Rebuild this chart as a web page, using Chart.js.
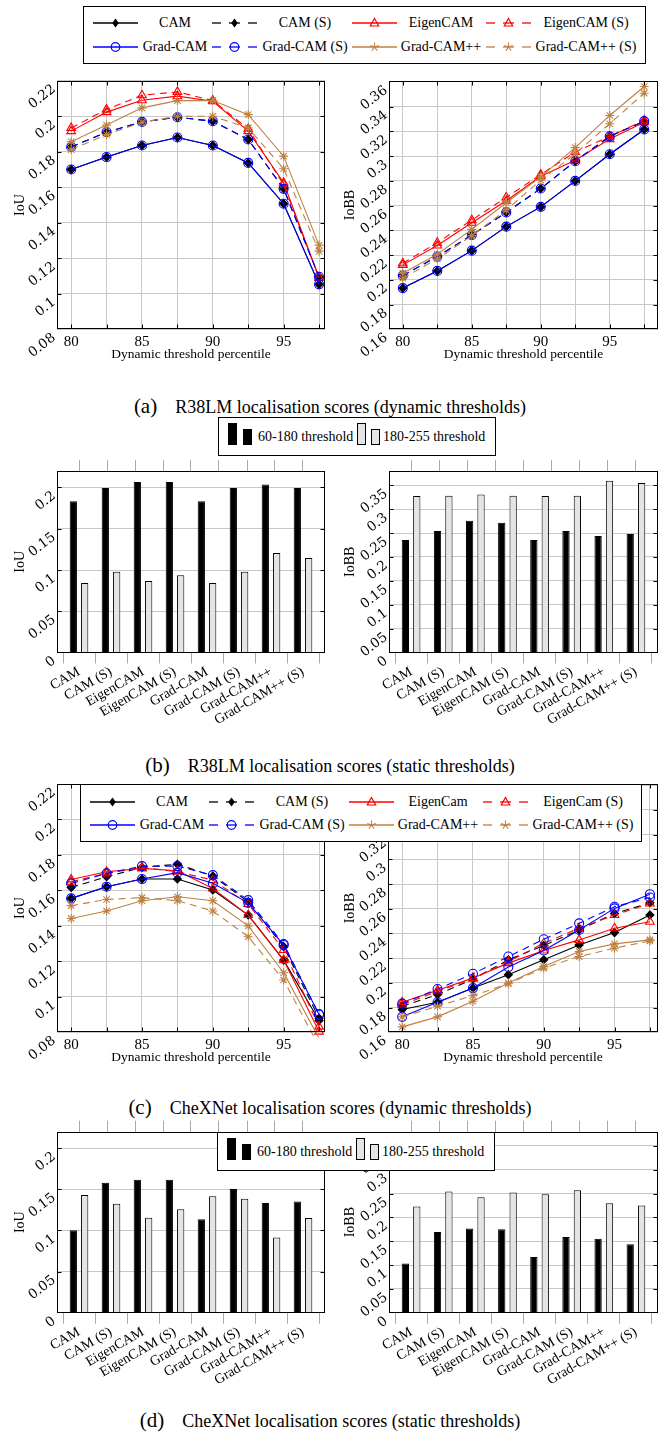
<!DOCTYPE html>
<html><head><meta charset="utf-8">
<script src="https://cdn.jsdelivr.net/npm/chart.js@4"></script>
<style>
body{margin:0;background:#fff;}
#page{position:relative;width:670px;height:1435px;overflow:hidden;font-family:'Liberation Serif','Times New Roman',serif;color:#000;}
.cv{position:absolute;}
.lg{position:absolute;border:1px solid #000;background:#fff;z-index:5;box-sizing:border-box;}
.lg .t{position:absolute;font-size:14px;white-space:nowrap;transform:translate(-50%,-50%);}
.lg .bt{position:absolute;font-size:14px;white-space:nowrap;transform:translateY(-50%);}
.lg svg{position:absolute;}
.lg .ic{position:absolute;border:1px solid #000;box-sizing:border-box;}
.cap{position:absolute;left:0;width:660px;display:flex;justify-content:center;align-items:baseline;gap:18px;font-size:18px;white-space:nowrap;}
.cap .n{font-size:21px;}
</style></head>
<body><div id="page"></div>
<script>
// ---------- data ----------
const xPercentiles = [80, 82.5, 85, 87.5, 90, 92.5, 95, 97.5];
const methodLabels = ['CAM', 'CAM (S)', 'EigenCAM', 'EigenCAM (S)', 'Grad-CAM', 'Grad-CAM (S)', 'Grad-CAM++', 'Grad-CAM++ (S)'];
const legendLabelsR38 = ['CAM', 'CAM (S)', 'EigenCAM', 'EigenCAM (S)', 'Grad-CAM', 'Grad-CAM (S)', 'Grad-CAM++', 'Grad-CAM++ (S)'];
const legendLabelsChex = ['CAM', 'CAM (S)', 'EigenCam', 'EigenCam (S)', 'Grad-CAM', 'Grad-CAM (S)', 'Grad-CAM++', 'Grad-CAM++ (S)'];
const barLegendLabels = ['60-180 threshold', '180-255 threshold'];

const iouLineTicks = [0.08, 0.1, 0.12, 0.14, 0.16, 0.18, 0.2, 0.22];
const iobbLineTicks = [0.16, 0.18, 0.2, 0.22, 0.24, 0.26, 0.28, 0.3, 0.32, 0.34, 0.36];
const iouBarTicks = [0, 0.05, 0.1, 0.15, 0.2];
const iobbBarTicks = [0, 0.05, 0.1, 0.15, 0.2, 0.25, 0.3, 0.35];

// (a) R38LM dynamic, IoU
const r38IoU_CAM      = [0.170, 0.177, 0.1835, 0.188, 0.1835, 0.1737, 0.1507, 0.1053];
const r38IoU_CAM_S    = [0.1827, 0.191, 0.1968, 0.1994, 0.1972, 0.1869, 0.1591, 0.1096];
const r38IoU_Eigen    = [0.1916, 0.2023, 0.209, 0.2113, 0.2084, 0.1916, 0.1625, 0.109];
const r38IoU_Eigen_S  = [0.1934, 0.2038, 0.2118, 0.2137, 0.2088, 0.1929, 0.1615, 0.109];
const r38IoU_Grad     = [0.170, 0.177, 0.1835, 0.188, 0.1835, 0.1737, 0.1507, 0.1053];
const r38IoU_Grad_S   = [0.1827, 0.191, 0.1968, 0.1994, 0.1972, 0.1869, 0.1591, 0.1096];
const r38IoU_GradPP   = [0.1856, 0.195, 0.2047, 0.2088, 0.2088, 0.2009, 0.1775, 0.1274];
const r38IoU_GradPP_S = [0.1812, 0.1897, 0.1966, 0.2, 0.2, 0.1934, 0.1704, 0.124];
// (a) R38LM dynamic, IoBB
const r38IoBB_CAM      = [0.1933, 0.2072, 0.2236, 0.243, 0.259, 0.28, 0.3015, 0.3216];
const r38IoBB_CAM_S    = [0.2035, 0.2188, 0.2362, 0.2545, 0.2738, 0.2959, 0.316, 0.3283];
const r38IoBB_Eigen    = [0.2121, 0.2277, 0.2462, 0.2639, 0.2838, 0.2967, 0.3138, 0.3275];
const r38IoBB_Eigen_S  = [0.2134, 0.23, 0.2483, 0.2666, 0.2851, 0.3034, 0.316, 0.3289];
const r38IoBB_Grad     = [0.1933, 0.2072, 0.2236, 0.243, 0.259, 0.28, 0.3015, 0.3216];
const r38IoBB_Grad_S   = [0.2035, 0.2188, 0.2362, 0.2545, 0.2738, 0.2959, 0.316, 0.3283];
const r38IoBB_GradPP   = [0.2054, 0.2207, 0.2408, 0.2623, 0.2832, 0.3069, 0.3329, 0.3563];
const r38IoBB_GradPP_S = [0.2013, 0.2169, 0.2357, 0.2564, 0.2806, 0.302, 0.3262, 0.3509];
// (b) R38LM static
const r38StaticIoU_60_180   = [0.1834, 0.1995, 0.2068, 0.2068, 0.1834, 0.1995, 0.2035, 0.1995];
const r38StaticIoU_180_255  = [0.0842, 0.0979, 0.0866, 0.0935, 0.0842, 0.0979, 0.1205, 0.1144];
const r38StaticIoBB_60_180  = [0.2356, 0.2545, 0.276, 0.2718, 0.2356, 0.2545, 0.244, 0.248];
const r38StaticIoBB_180_255 = [0.3277, 0.3284, 0.331, 0.3284, 0.3277, 0.3284, 0.3597, 0.3548];
// (c) CheXNet dynamic, IoU
const chexIoU_CAM      = [0.1555, 0.1621, 0.1664, 0.1664, 0.1602, 0.1461, 0.1207, 0.0866];
const chexIoU_CAM_S    = [0.1617, 0.1677, 0.173, 0.1748, 0.1681, 0.1536, 0.1283, 0.0879];
const chexIoU_Eigen    = [0.1662, 0.1705, 0.1724, 0.1711, 0.1611, 0.1461, 0.1207, 0.0804];
const chexIoU_Eigen_S  = [0.1649, 0.1696, 0.173, 0.1705, 0.1658, 0.1523, 0.1264, 0.0832];
const chexIoU_Grad     = [0.1555, 0.1621, 0.1664, 0.17, 0.164, 0.153, 0.1292, 0.0901];
const chexIoU_Grad_S   = [0.1639, 0.1696, 0.1737, 0.1737, 0.1686, 0.1545, 0.1298, 0.0901];
const chexIoU_GradPP   = [0.1442, 0.1484, 0.1542, 0.1564, 0.1542, 0.14, 0.1136, 0.0766];
const chexIoU_GradPP_S = [0.1514, 0.1549, 0.1559, 0.1542, 0.1484, 0.1339, 0.1095, 0.072];
// (c) CheXNet dynamic, IoBB
const chexIoBB_CAM      = [0.1784, 0.1843, 0.1958, 0.2066, 0.2187, 0.2307, 0.2407, 0.2549];
const chexIoBB_CAM_S    = [0.1811, 0.1905, 0.2031, 0.2187, 0.2302, 0.2428, 0.2562, 0.2648];
const chexIoBB_Eigen    = [0.1843, 0.194, 0.2039, 0.216, 0.2262, 0.2348, 0.2442, 0.2495];
const chexIoBB_Eigen_S  = [0.1824, 0.1932, 0.2034, 0.2173, 0.2321, 0.2442, 0.2549, 0.2643];
const chexIoBB_Grad     = [0.1725, 0.1843, 0.1958, 0.2128, 0.2262, 0.2428, 0.2603, 0.2718];
const chexIoBB_Grad_S   = [0.1832, 0.195, 0.2074, 0.2213, 0.2353, 0.2482, 0.2616, 0.2691];
const chexIoBB_GradPP   = [0.1644, 0.1725, 0.1851, 0.1999, 0.2133, 0.2254, 0.2316, 0.2348];
const chexIoBB_GradPP_S = [0.1725, 0.1811, 0.1897, 0.1993, 0.212, 0.2213, 0.2281, 0.234];
// (d) CheXNet static
const chexStaticIoU_60_180   = [0.1002, 0.158, 0.1616, 0.1616, 0.1135, 0.1503, 0.1333, 0.1353];
const chexStaticIoU_180_255  = [0.143, 0.1325, 0.1155, 0.1256, 0.1414, 0.1386, 0.0913, 0.1151];
const chexStaticIoBB_60_180  = [0.1032, 0.1694, 0.177, 0.175, 0.1171, 0.1589, 0.1554, 0.1436];
const chexStaticIoBB_180_255 = [0.223, 0.2544, 0.2426, 0.2523, 0.2488, 0.2572, 0.23, 0.2251];

// ---------- styles ----------
const BROWN = '#bf8040';
const lineStyles = [
  {color:'#000', mark:'diamond', dashed:false},
  {color:'#000', mark:'diamond', dashed:true},
  {color:'#ff0000', mark:'triangle', dashed:false},
  {color:'#ff0000', mark:'triangle', dashed:true},
  {color:'#0000ff', mark:'circle', dashed:false},
  {color:'#0000ff', mark:'circle', dashed:true},
  {color:BROWN, mark:'star', dashed:false},
  {color:BROWN, mark:'star', dashed:true}
];
const cjsPoint = {diamond:['rectRot',4], triangle:['triangle',5], circle:['circle',4.5], star:['star',4.5]};
const TICKFONT = {family:"'DejaVu Serif', serif", size:13.5};
const XFONT = {family:"'Liberation Serif', serif", size:15};
const TITLEFONT = {family:"'Liberation Serif', serif", size:14};
const GRID = '#c8c8c8';
const page = document.getElementById('page');
const fmt = v => String(parseFloat(Number(v).toFixed(3)));

// frame + small inner tick marks (pgfplots style)
const framePlugin = {id:'frame', afterDatasetsDraw(chart, args, opts){
  const {ctx, chartArea:a} = chart; ctx.save(); ctx.strokeStyle='#000'; ctx.lineWidth=1;
  const L=Math.round(a.left)+0.5, R=Math.round(a.right)-0.5, T=Math.round(a.top)+0.5, B=Math.round(a.bottom)-0.5;
  ctx.strokeRect(L, T, R-L, B-T);
  const tl = 4;
  ctx.beginPath();
  const ys = chart.scales.y;
  ys.ticks.forEach(t=>{ const p=Math.round(ys.getPixelForValue(t.value))+0.5; if(p<=T+1||p>=B-1) return;
    ctx.moveTo(L,p); ctx.lineTo(L+tl,p); ctx.moveTo(R,p); ctx.lineTo(R-tl,p); });
  if (chart.config.type === 'line'){
    const xs = chart.scales.x;
    xs.ticks.forEach(t=>{ const p=Math.round(xs.getPixelForValue(t.value))+0.5; if(p<=L+1||p>=R-1) return;
      ctx.moveTo(p,B); ctx.lineTo(p,B-tl); ctx.moveTo(p,T); ctx.lineTo(p,T+tl); });
  }
  ctx.stroke();
  ctx.restore();
}};

function place(c){
  const d = document.createElement('div'); d.className='cv';
  d.style.left=c[0]+'px'; d.style.top=c[1]+'px'; d.style.width=(c[2]-c[0])+'px'; d.style.height=(c[3]-c[1])+'px';
  const cv = document.createElement('canvas'); d.appendChild(cv); page.appendChild(d); return cv;
}

function yAxis(cr, pr, range, ticks, title){
  return {type:'linear', min:range[0], max:range[1],
    afterBuildTicks(a){ a.ticks = ticks.map(v=>({value:v})); },
    afterFit(a){ a.width = pr[0]-cr[0]; },
    ticks:{callback:v=>fmt(v), font:TICKFONT, color:'#000', minRotation:38, maxRotation:38, labelOffset:7, padding:3, autoSkip:false},
    grid:{color:GRID, drawTicks:false}, border:{display:false},
    title:{display:true, text:title, font:TITLEFONT, color:'#000', padding:{top:8,bottom:0}}};
}

function lineChart(cr, pr, xRange, yRange, yTicks, yTitle, series){
  const cv = place(cr);
  new Chart(cv, {
    type:'line',
    data:{datasets: series.map((s,i)=>{
      const st = lineStyles[i]; const pt = cjsPoint[st.mark];
      return {label: methodLabels[i], data: xPercentiles.map((x,j)=>({x:x, y:s[j]})),
        borderColor: st.color, backgroundColor:'rgba(0,0,0,0)', borderWidth:1.1,
        borderDash: st.dashed ? [7,5] : [], pointStyle: pt[0], pointRadius: pt[1],
        pointBorderColor: st.color, pointBackgroundColor: st.mark==='diamond' ? st.color : 'rgba(0,0,0,0)',
        pointBorderWidth:1.1, order: 8-i, clip: 5, tension:0};
    })},
    options:{responsive:true, maintainAspectRatio:false, animation:false, events:[],
      layout:{padding:{left:0, top:pr[1]-cr[1], right:cr[2]-pr[2], bottom:0}},
      plugins:{legend:{display:false}, tooltip:{enabled:false}},
      scales:{
        x:{type:'linear', min:xRange[0], max:xRange[1],
          afterBuildTicks(a){ a.ticks = xPercentiles.map(v=>({value:v})); },
          afterFit(a){ a.height = cr[3]-pr[3]; },
          ticks:{callback:v=> (v%5===0 ? String(v) : ''), font:XFONT, color:'#000', padding:4, maxRotation:0, minRotation:0, autoSkip:false},
          grid:{color:GRID, drawTicks:false}, border:{display:false},
          title:{display:true, text:'Dynamic threshold percentile', font:{family:"'Liberation Serif', serif", size:13.5}, color:'#000', padding:{top:0,bottom:0}}},
        y: yAxis(cr, pr, yRange, yTicks, yTitle)
      }},
    plugins:[framePlugin]
  });
}

const BAR_X_MIN = -0.6875, BAR_X_MAX = 7.6875, TOPTICK = 11;
function barChart(cr, pr, yRange, yTicks, yTitle, blackVals, grayVals){
  const cv = place(cr);
  const mk = vals => vals.map((v,i)=>({x:i, y:v}));
  new Chart(cv, {
    type:'bar',
    data:{datasets:[
      {label:barLegendLabels[0], data:mk(blackVals), backgroundColor:'#000', borderColor:'#000', borderWidth:1},
      {label:barLegendLabels[1], data:mk(grayVals), backgroundColor:'#e4e4e4', borderColor:'#000', borderWidth:1}
    ]},
    options:{responsive:true, maintainAspectRatio:false, animation:false, events:[],
      categoryPercentage:0.71, barPercentage:0.64,
      layout:{padding:{left:0, top:pr[1]-cr[1]-TOPTICK, right:cr[2]-pr[2], bottom:0}},
      plugins:{legend:{display:false}, tooltip:{enabled:false}},
      scales:{
        x:{type:'linear', min:BAR_X_MIN, max:BAR_X_MAX, offset:false,
          afterBuildTicks(a){ a.ticks = methodLabels.map((_,i)=>({value:i})); },
          afterFit(a){ a.height = cr[3]-pr[3]; },
          ticks:{callback:v=>methodLabels[v] || '', font:{family:"'Liberation Serif', serif", size:14}, color:'#000', minRotation:30, maxRotation:30, padding:0, autoSkip:false},
          grid:{color:'#aaa', drawOnChartArea:false, drawTicks:true, tickLength:11}, border:{display:false}},
        x2:{type:'linear', position:'top', min:BAR_X_MIN, max:BAR_X_MAX,
          afterBuildTicks(a){ a.ticks = methodLabels.map((_,i)=>({value:i})); },
          afterFit(a){ a.height = TOPTICK; },
          ticks:{display:false},
          grid:{color:'#aaa', drawOnChartArea:false, drawTicks:true, tickLength:TOPTICK}, border:{display:false}},
        y: yAxis(cr, pr, yRange, yTicks, yTitle)
      }},
    plugins:[framePlugin]
  });
}

// ---------- legends (HTML) ----------
function sampleSVG(st){
  const w=45, h=14, cy=7, cx=22.5;
  let s = `<svg width="${w}" height="${h}" viewBox="0 0 ${w} ${h}">`;
  if (st.dashed){
    s += `<line x1="0" y1="${cy}" x2="9" y2="${cy}" stroke="${st.color}" stroke-width="1.3"/>`;
    s += `<line x1="17" y1="${cy}" x2="28" y2="${cy}" stroke="${st.color}" stroke-width="1.3"/>`;
    s += `<line x1="36" y1="${cy}" x2="45" y2="${cy}" stroke="${st.color}" stroke-width="1.3"/>`;
  } else {
    s += `<line x1="0" y1="${cy}" x2="${w}" y2="${cy}" stroke="${st.color}" stroke-width="1.3"/>`;
  }
  if (st.mark==='diamond') s += `<polygon points="${cx},${cy-4.5} ${cx+3.3},${cy} ${cx},${cy+4.5} ${cx-3.3},${cy}" fill="${st.color}"/>`;
  if (st.mark==='circle') s += `<circle cx="${cx}" cy="${cy}" r="4.3" fill="none" stroke="${st.color}" stroke-width="1.2"/>`;
  if (st.mark==='triangle') s += `<polygon points="${cx},${cy-4.5} ${cx+4.2},${cy+3} ${cx-4.2},${cy+3}" fill="none" stroke="${st.color}" stroke-width="1.2"/>`;
  if (st.mark==='star'){ for(let k=0;k<5;k++){ const a=-Math.PI/2+k*2*Math.PI/5; s += `<line x1="${cx}" y1="${cy}" x2="${cx+4.5*Math.cos(a)}" y2="${cy+4.5*Math.sin(a)}" stroke="${st.color}" stroke-width="1.1"/>`; } }
  return s + '</svg>';
}
function lineLegend(left, top, width, height, labels, rowY){
  const d = document.createElement('div'); d.className='lg';
  Object.assign(d.style, {left:left+'px', top:top+'px', width:width+'px', height:height+'px'});
  const sampleX = [9, 128, 268, 402], textX = [91, 221, 357, 502];
  labels.forEach((lab,i)=>{
    const r = Math.floor(i/4), c = i%4;
    const wrap = document.createElement('div'); wrap.innerHTML = sampleSVG(lineStyles[r===0 ? c : 4+c]);
    const svg = wrap.firstChild; svg.style.left = sampleX[c]+'px'; svg.style.top = (rowY[r]-7)+'px'; d.appendChild(svg);
    const t = document.createElement('div'); t.className='t'; t.textContent = lab;
    t.style.left = textX[c]+'px'; t.style.top = rowY[r]+'px'; d.appendChild(t);
  });
  page.appendChild(d);
}
function barLegend(left, top){
  const d = document.createElement('div'); d.className='lg';
  Object.assign(d.style, {left:left+'px', top:top+'px', width:'278px', height:'39px'});
  const icons = [[9,5,22,'#000'],[24,11,16,'#000'],[138,5,22,'#e4e4e4'],[152,11,16,'#e4e4e4']];
  icons.forEach(ic=>{ const e=document.createElement('div'); e.className='ic';
    Object.assign(e.style,{left:ic[0]+'px', top:ic[1]+'px', width:'9px', height:ic[2]+'px', background:ic[3]}); d.appendChild(e); });
  [[39, barLegendLabels[0]],[164, barLegendLabels[1]]].forEach(p=>{ const t=document.createElement('div'); t.className='bt';
    t.textContent=p[1]; t.style.left=p[0]+'px'; t.style.top='19px'; d.appendChild(t); });
  page.appendChild(d);
}
function caption(y, tag, text){
  const d = document.createElement('div'); d.className='cap'; d.style.top=(y-12)+'px';
  d.innerHTML = `<span class="n">${tag}</span><span>${text}</span>`; page.appendChild(d);
}

// ---------- build ----------
lineLegend(83, 6, 563, 58, legendLabelsR38, [16, 40]);
lineChart([4,62,340,363], [57,80.7,325,329.3], [79,97.92], [0.08,0.22], iouLineTicks, 'IoU',
  [r38IoU_CAM, r38IoU_CAM_S, r38IoU_Eigen, r38IoU_Eigen_S, r38IoU_Grad, r38IoU_Grad_S, r38IoU_GradPP, r38IoU_GradPP_S]);
lineChart([334,62,670,363], [389,80.7,658,329.3], [79,98.5], [0.16,0.361], iobbLineTicks, 'IoBB',
  [r38IoBB_CAM, r38IoBB_CAM_S, r38IoBB_Eigen, r38IoBB_Eigen_S, r38IoBB_Grad, r38IoBB_Grad_S, r38IoBB_GradPP, r38IoBB_GradPP_S]);
caption(406, '(a)', 'R38LM localisation scores (dynamic thresholds)');

barLegend(218, 417);
barChart([4,440,340,750], [57,471,325,652.5], [0,0.22], iouBarTicks, 'IoU', r38StaticIoU_60_180, r38StaticIoU_180_255);
barChart([334,440,670,750], [389,471,658,652.5], [0,0.38], iobbBarTicks, 'IoBB', r38StaticIoBB_60_180, r38StaticIoBB_180_255);
caption(765, '(b)', 'R38LM localisation scores (static thresholds)');

lineChart([4,770,340,1066], [57,784,325,1032.3], [79,97.92], [0.08,0.22], iouLineTicks, 'IoU',
  [chexIoU_CAM, chexIoU_CAM_S, chexIoU_Eigen, chexIoU_Eigen_S, chexIoU_Grad, chexIoU_Grad_S, chexIoU_GradPP, chexIoU_GradPP_S]);
lineChart([334,770,670,1066], [388,784,658,1032.3], [79,98.07], [0.16,0.361], iobbLineTicks, 'IoBB',
  [chexIoBB_CAM, chexIoBB_CAM_S, chexIoBB_Eigen, chexIoBB_Eigen_S, chexIoBB_Grad, chexIoBB_Grad_S, chexIoBB_GradPP, chexIoBB_GradPP_S]);
lineLegend(80, 784, 562, 58, legendLabelsChex, [17, 40]);
caption(1107, '(c)', 'CheXNet localisation scores (dynamic thresholds)');

barChart([4,1105,340,1400], [57,1131.7,325,1312.7], [0,0.22], iouBarTicks, 'IoU', chexStaticIoU_60_180, chexStaticIoU_180_255);
barChart([334,1105,670,1400], [389,1131.7,658,1312.7], [0,0.38], iobbBarTicks, 'IoBB', chexStaticIoBB_60_180, chexStaticIoBB_180_255);
barLegend(217, 1132);
caption(1420, '(d)', 'CheXNet localisation scores (static thresholds)');
</script>
</body></html>
